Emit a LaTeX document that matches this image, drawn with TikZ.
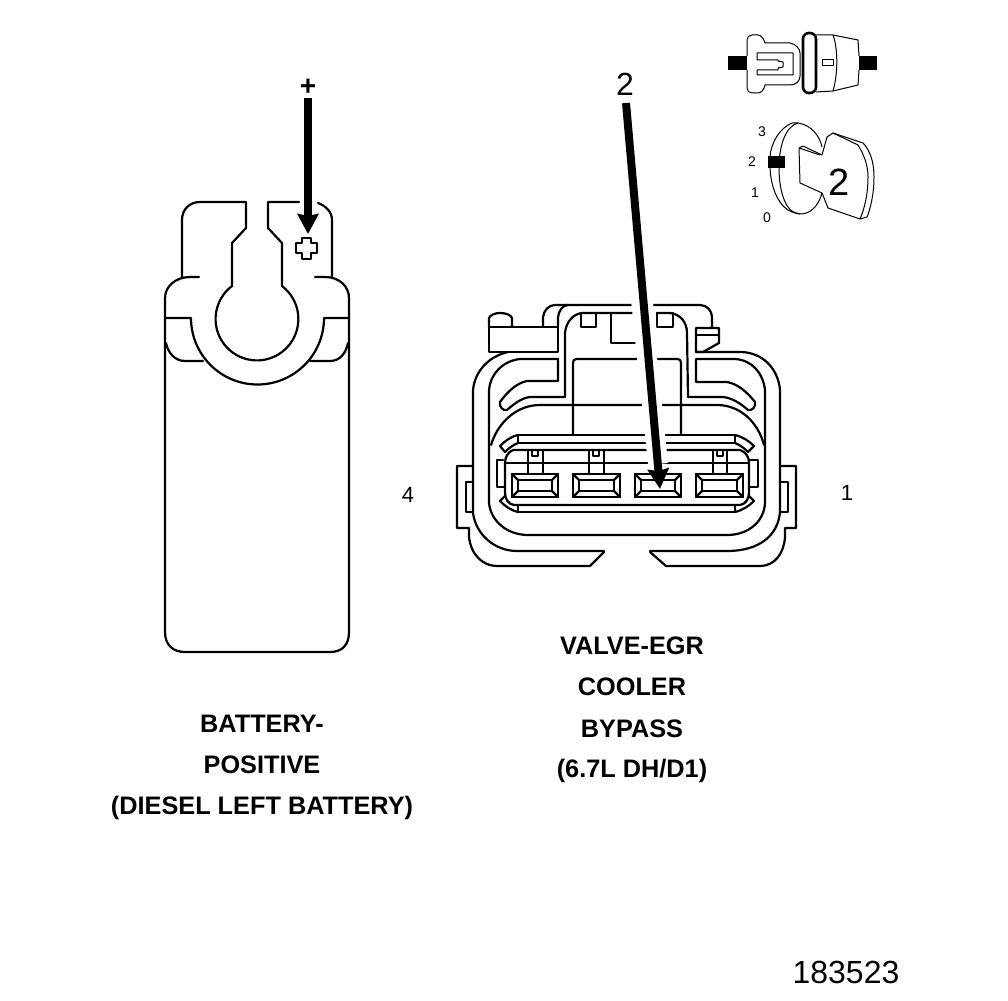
\documentclass[tikz,border=0pt]{standalone}
\usepackage{fontspec}
\setmainfont{Liberation Sans}
\usetikzlibrary{arrows.meta}
\tikzset{
  ln/.style={line width=2.2pt,line cap=round,line join=round},
  thin ln/.style={line width=1pt,line join=round},
  block/.style={fill=black,draw=none},
  caption/.style={font=\bfseries\fontsize{25.3}{25.3}\selectfont,inner sep=0pt},
  num/.style={font=\fontsize{22}{22}\selectfont,inner sep=0pt},
  tiny num/.style={font=\fontsize{14}{14}\selectfont,inner sep=0pt},
  pointer/.style={line width=8pt,-{Stealth[length=20pt,width=21pt,inset=2pt]}},
  halo/.style={line width=20pt,white}
}
\begin{document}
\begin{tikzpicture}[x=1pt,y=-1pt]
\useasboundingbox (0,0) rectangle (1008,1000);
% ---------- battery terminal
\begin{scope}[ln]
\draw (199,277) -- (190,277) .. controls (175,277) and (165,287) .. (165,298) -- (165,632)
      .. controls (165,645) and (173,652) .. (185,652) -- (330,652)
      .. controls (342,652) and (349,645) .. (349,632) -- (349,298)
      .. controls (349,287) and (340,277) .. (325,277) -- (315,277);
\draw (182,277) -- (182,220) .. controls (182,209) and (190,202) .. (200,202) -- (246,202) -- (246,228)
      -- (232,243) -- (232,286) arc[start angle=232.9,end angle=-52.9,radius=41.4] -- (282,243) -- (268,228) -- (268,202) -- (299,202);
\draw (318,203) .. controls (326,206) and (332,212) .. (332,220) -- (332,277);
\draw (166,318) -- (191,318) arc[start angle=180,end angle=0,radius=66.5] -- (349,318);
\draw (166,343) .. controls (168,353) and (175,361) .. (185,361) -- (203,361);
\draw (348,343) .. controls (346,353) and (340,361) .. (330,361) -- (310,361);
\draw (302,238) -- (311,238) -- (311,243) -- (317,243) -- (317,253) -- (311,253) -- (311,259) -- (302,259)
      -- (302,253) -- (296,253) -- (296,243) -- (302,243) -- cycle;
\end{scope}
\node[inner sep=0pt,font=\bfseries\fontsize{28}{28}\selectfont] (plus) at (308,87) {+};
\coordinate (plusfrom) at (308,98);
\coordinate (plusto) at (308,234);
\draw[pointer] (plusfrom) -- (plusto);
% ---------- connector body
\begin{scope}[ln]
% outer shell
\draw (473,466) -- (457,466) -- (457,528) -- (469,528) -- (469,537) .. controls (471,555) and (483,566) .. (497,566)
      -- (590,566) -- (604,552);
\draw (473,513) .. controls (476,535) and (495,551) .. (517,551) -- (604,551);
\draw (650,551) -- (727,551) .. controls (760,551) and (778,535) .. (780,512);
\draw (650,552) -- (666,566) -- (760,566) .. controls (775,566) and (784,553) .. (785,537) -- (785,528) -- (796,528) -- (796,466) -- (781,466);
\draw (466,482) -- (473,482) (466,482) -- (466,512) -- (473,512);
\draw (781,482) -- (788,482) -- (788,512) -- (781,512);
\draw (473,513) -- (473,390) .. controls (475,370) and (490,356) .. (508,352);
\draw (780,512) -- (780,390) .. controls (778,368) and (762,352) .. (740,352) -- (696,352);
% left clip
\draw (489,352) -- (489,327) -- (558,327) -- (558,352) -- cycle;
\draw (489,327) -- (489,318) .. controls (490,315) and (495,313) .. (500,313) .. controls (506,313) and (511,315) .. (512,318) -- (512,327);
% cap
\draw (543,327) -- (543,317) .. controls (544,310) and (549,305) .. (555,305) -- (633,305);
\draw (654,305) -- (700,305) .. controls (707,305) and (712,311) .. (712,317) -- (712,328);
\draw (558,327) -- (558,317) .. controls (559,310) and (563,305) .. (568,305);
\draw (565,397) -- (565,333) .. controls (566,322) and (573,314) .. (582,313) -- (635,313);
\draw (657,313) -- (670,313) .. controls (680,314) and (687,322) .. (687,333) -- (688,397);
\draw (581,313) -- (581,327) -- (596,327) -- (596,313);
\draw (657,313) -- (657,327) -- (673,327) -- (673,313);
\draw (611,313) -- (611,343) -- (637,343);
% right clip
\draw (696,328) -- (719,328) -- (719,343) -- (703,352) -- (696,352) -- cycle;
\draw (696,335) -- (719,335);
% inner wall
\draw (558,359) -- (558,381) -- (527,381) .. controls (517,383) and (508,391) .. (500,402)
      .. controls (499,407) and (503,411) .. (507,410) .. controls (515,403) and (522,398) .. (530,397) -- (565,397);
\draw (558,359) -- (520,359) .. controls (502,361) and (490,375) .. (489,390) -- (489,503)
      .. controls (491,522) and (508,535) .. (528,535) -- (727,535) .. controls (748,535) and (764,522) .. (765,503)
      -- (765,390) .. controls (763,373) and (752,360) .. (735,359) -- (696,359) -- (696,382) -- (727,382)
      .. controls (738,384) and (747,392) .. (755,402) .. controls (756,407) and (752,411) .. (748,410)
      .. controls (740,403) and (732,398) .. (723,397) -- (688,397);
% inner frame
\draw (573,435) -- (573,363) .. controls (573,361) and (574,359) .. (576,359) -- (678,359)
      .. controls (680,359) and (681,361) .. (681,363) -- (681,435);
\draw (491,445) .. controls (498,422) and (517,405) .. (540,405) -- (717,405)
      .. controls (740,405) and (758,422) .. (764,445);
% tray
\draw (518,435) -- (735,435) (518,443) -- (735,443) (518,450) -- (735,450);
\draw (518,435) -- (518,443) (735,435) -- (735,443);
\draw (518,435) .. controls (510,437) and (505,441) .. (500,446) -- (505,452) .. controls (509,448) and (513,445) .. (518,443);
\draw (735,435) .. controls (743,437) and (749,441) .. (754,446) -- (748,452) .. controls (744,448) and (740,445) .. (735,443);
\draw (513,450) .. controls (508,452) and (505,457) .. (505,463) -- (505,492) .. controls (505,499) and (508,504) .. (514,505) -- (740,505)
      .. controls (746,504) and (749,499) .. (749,492) -- (749,463) .. controls (749,457) and (746,452) .. (740,450) -- (513,450);
\draw (505,463) -- (749,463);
\draw (518,512) -- (735,512) (518,505) -- (518,512) (735,505) -- (735,512);
\draw (518,512) .. controls (510,510) and (505,506) .. (500,501) -- (505,496);
\draw (735,512) .. controls (743,510) and (749,506) .. (754,501) -- (749,496);
\draw (503,460) -- (497,460) -- (497,487) -- (504,487);
\draw (750,460) -- (758,460) -- (758,487) -- (750,487);
% posts
\draw (528,450) -- (528,474) (543,450) -- (543,474) (532,450) -- (532,456) -- (538,456) -- (538,450);
\draw (589,450) -- (589,474) (604,450) -- (604,474) (593,450) -- (593,456) -- (599,456) -- (599,450);
\draw (713,450) -- (713,474) (727,450) -- (727,474) (717,450) -- (717,456) -- (723,456) -- (723,450);
% terminals
\foreach \xa/\xb in {512/558,573/620,635/681,696/743}{
  \draw[fill=white] (\xa,474) rectangle (\xb,497);
  \draw (\xa+6,480) rectangle (\xb-6,491);
  \draw (\xa,474) -- (\xa+6,480) (\xb,474) -- (\xb-6,480) (\xa,497) -- (\xa+6,491) (\xb,497) -- (\xb-6,491);
}
\end{scope}
\draw[halo] (640,290) -- (658,464);
\node[inner sep=0pt,font=\fontsize{32}{32}\selectfont] (two) at (625,84) {2};
\coordinate (twofrom) at (626,103);
\coordinate (twoto) at (660,489);
\draw[pointer] (twofrom) -- (twoto);
% ---------- pin numbers
\node[num] (pinfour) at (408,495) {4};
\node[num] (pinone) at (847,493) {1};
% ---------- inset: connector
\fill[block] (728,56) rectangle (747,70);
\fill[block] (859,56) rectangle (877,70);
\begin{scope}[thin ln]
\draw (747,56) -- (747,40) .. controls (747,37) and (749,35) .. (752,35) -- (758,35) .. controls (761,35) and (764,39) .. (765,43)
      -- (790,43) .. controls (796,44) and (800,49) .. (800,53) -- (800,76) .. controls (800,81) and (796,85) .. (790,85)
      -- (765,85) .. controls (764,90) and (761,93) .. (758,93) -- (752,93) .. controls (749,93) and (747,91) .. (747,88) -- (747,70);
\draw (757,53) -- (793,53) -- (793,75) -- (757,75) -- (757,70) -- (778,70) -- (778,68) -- (783,67) -- (783,62) -- (778,61) -- (778,60) -- (757,60) -- cycle;
\draw (816,35) -- (833,35) -- (858,40) -- (859,56) (859,70) -- (858,85) -- (833,91) -- (816,92);
\draw (833,35) .. controls (837,45) and (839,70) .. (833,91);
\draw (822,60) rectangle (833,66);
\end{scope}
\draw[line width=2.6pt,rounded corners=6pt] (803,33) rectangle (816,93);
% ---------- inset: key
\begin{scope}[thin ln]
\draw (798,123) .. controls (812,125) and (820,137) .. (822,147);
\draw (822,193) .. controls (818,207) and (810,214) .. (800,214) .. controls (786,214) and (779,192) .. (779,168) .. controls (779,145) and (786,126) .. (798,123) -- (792,123);
\draw (792,123) .. controls (780,128) and (771,142) .. (770,157) (770,168) .. controls (771,190) and (780,208) .. (792,212) -- (800,214);
\draw (799,148) -- (803,146) -- (822,155) -- (827,137) -- (833,133) -- (863,143) .. controls (870,150) and (874,162) .. (874,177)
      .. controls (874,195) and (870,210) .. (867,217) -- (860,219) -- (828,208) -- (822,193) -- (800,183) -- cycle;
\draw (799,148) -- (820,155);
\draw (833,133) -- (858,145) .. controls (864,155) and (868,165) .. (868,177) .. controls (868,195) and (864,210) .. (860,219);
\end{scope}
\fill[block] (768,156) rectangle (785,168);
\node[tiny num] (dthree) at (762,132) {3};
\node[tiny num] (dtwo) at (752,162) {2};
\node[tiny num] (done) at (755,193) {1};
\node[tiny num] (dzero) at (767,218) {0};
\node[inner sep=0pt,font=\fontsize{38}{38}\selectfont] (bigtwo) at (839,182) {2};
% ---------- captions
\node[caption] (capa) at (262,724) {BATTERY-};
\node[caption] (capb) at (262,765) {POSITIVE};
\node[caption] (capc) at (262,807.5) {(DIESEL LEFT BATTERY)};
\node[caption] (capd) at (632,646) {VALVE-EGR};
\node[caption] (cape) at (632,687) {COOLER};
\node[caption] (capf) at (632,729) {BYPASS};
\node[caption] (capg) at (632,770.5) {(6.7L DH/D1)};
\node[inner sep=0pt,font=\fontsize{32}{32}\selectfont] (figno) at (846,972) {183523};
\end{tikzpicture}
\end{document}
